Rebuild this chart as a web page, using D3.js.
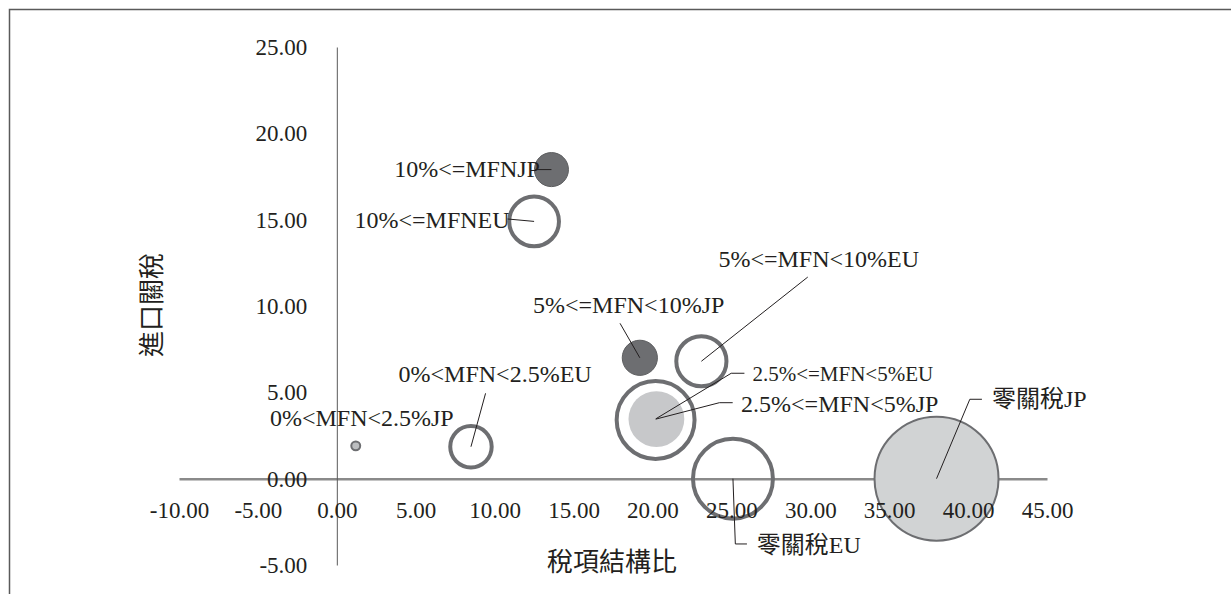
<!DOCTYPE html>
<html>
<head>
<meta charset="utf-8">
<script src="https://cdn.jsdelivr.net/npm/d3@7"></script>
<style>
  html, body { margin: 0; padding: 0; background: #fff; }
  svg { display: block; }
</style>
</head>
<body>
<svg id="chart" width="1231" height="594"></svg>
<script>
// data
const labels = ["10%<=MFNJP", "10%<=MFNEU", "5%<=MFN<10%JP", "5%<=MFN<10%EU",
                "2.5%<=MFN<5%EU", "2.5%<=MFN<5%JP", "0%<MFN<2.5%EU", "0%<MFN<2.5%JP",
                "零關稅EU", "零關稅JP"];
const shareX = [13.6, 12.5, 19.2, 23.1, 20.2, 20.25, 8.5, 1.2, 25.1, 38.0];
const tariffY = [17.9, 14.9, 7.0, 6.8, 3.4, 3.45, 1.85, 1.9, 0, 0];
const bubbleSize = [2.9, 6.2, 3.1, 6.3, 15.2, 7.8, 4.3, 0.2, 16.0, 38.5];
const xTicks = [-10, -5, 0, 5, 10, 15, 20, 25, 30, 35, 40, 45];
const yTicks = [-5, 0, 5, 10, 15, 20, 25];

// looks of each bubble
const ring = { fill: "none", stroke: "#6d6e71", sw: 4 };
const bubbleStyle = {
  "10%<=MFNJP":     { fill: "#6d6e71", stroke: "#5d5e60", sw: 1 },
  "10%<=MFNEU":     ring,
  "5%<=MFN<10%JP":  { fill: "#6d6e71", stroke: "#5d5e60", sw: 1 },
  "5%<=MFN<10%EU":  ring,
  "2.5%<=MFN<5%EU": ring,
  "2.5%<=MFN<5%JP": { fill: "#c7c8ca", stroke: "none", sw: 0 },
  "0%<MFN<2.5%EU":  ring,
  "0%<MFN<2.5%JP":  { fill: "#bcbec0", stroke: "#6d6e71", sw: 2 },
  "零關稅EU":        ring,
  "零關稅JP":        { fill: "#d1d3d4", stroke: "#6d6e71", sw: 2 }
};

// label placement relative to the bubble centre (px): text offset + leader points
const labelLayout = {
  "10%<=MFNJP":     { dx: -11.5, dy: 7.4,  anchor: "end",   size: 24, leader: [[-16, 0], [0, 0]] },
  "10%<=MFNEU":     { dx: -24.5, dy: 6.6,  anchor: "end",   size: 24, leader: [[-26.5, -2.4], [0, 0]] },
  "5%<=MFN<10%JP":  { dx: -106.8, dy: -44.8, anchor: "start", size: 24, leader: [[-19.8, -34.5], [0, 0]] },
  "5%<=MFN<10%EU":  { dx: 17.1,  dy: -94.5, anchor: "start", size: 24, leader: [[106.4, -84.2], [0, 0]] },
  "2.5%<=MFN<5%EU": { dx: 96.8,  dy: -39,   anchor: "start", size: 21, leader: [[88.8, -46.7], [75.6, -46.7], [0, -1]] },
  "2.5%<=MFN<5%JP": { dx: 84.7,  dy: -7.4,  anchor: "start", size: 24, leader: [[76.3, -16.4], [63, -16.4], [-0.5, 0]] },
  "0%<MFN<2.5%EU":  { dx: -72.4, dy: -64.7, anchor: "start", size: 24, leader: [[14.6, -53.4], [0, 0]] },
  "0%<MFN<2.5%JP":  { dx: -85.8, dy: -19.7, anchor: "start", size: 24, leader: null },
  "零關稅EU":        { dx: 23.8,  dy: 74.3,  anchor: "start", size: 24, leader: [[0, 0], [2.4, 65.3], [14, 65.3]] },
  "零關稅JP":        { dx: 55.5,  dy: -71.7, anchor: "start", size: 24, leader: [[0, 0], [33.3, -79.4], [45.4, -79.4]] }
};

const points = labels.map((name, i) => ({ name, x: shareX[i], y: tariffY[i], s: bubbleSize[i] }));

const svg = d3.select("#chart");
const serif = "'Liberation Serif', 'Times New Roman', 'Noto Sans CJK TC', serif";
const sans = "'Noto Sans CJK TC', 'Noto Sans', sans-serif";
const ink = "#231f20";

const x = d3.scaleLinear().domain([-10, 45]).range([179, 1047]);
const y = d3.scaleLinear().domain([-5, 25]).range([565, 47]);
const r = d3.scaleSqrt().domain([0, d3.max(bubbleSize)]).range([0, 62]);

// outer frame
svg.append("rect")
  .attr("x", 9.5).attr("y", 9.5)
  .attr("width", 1400).attr("height", 800)
  .attr("fill", "none")
  .attr("stroke", "#5a5a5a")
  .attr("stroke-width", 1.5);

const fmt = d => d.toFixed(2);

// axis lines (under the bubbles)
const lines = svg.append("g");
lines.append("g")
  .attr("transform", `translate(0,${y(0)})`)
  .call(d3.axisBottom(x).tickValues([]).tickSizeOuter(0))
  .call(g => g.select(".domain").attr("stroke", "#8a8a8a").attr("stroke-width", 2.5));
lines.append("g")
  .attr("transform", `translate(${x(0)},0)`)
  .call(d3.axisLeft(y).tickValues([]).tickSizeOuter(0))
  .call(g => g.select(".domain").attr("stroke", "#5a5a5a").attr("stroke-width", 1));

// bubbles: rings first so the filled JP bubble shows inside the EU ring
const order = points.slice().sort((a, b) => b.s - a.s);
svg.append("g")
  .selectAll("circle")
  .data(order)
  .join("circle")
  .attr("cx", d => x(d.x))
  .attr("cy", d => y(d.y))
  .attr("r", d => r(d.s))
  .attr("fill", d => bubbleStyle[d.name].fill)
  .attr("stroke", d => bubbleStyle[d.name].stroke)
  .attr("stroke-width", d => bubbleStyle[d.name].sw);

// tick labels (over the bubbles)
svg.append("g")
  .attr("transform", `translate(0,${y(0)})`)
  .call(d3.axisBottom(x).tickValues(xTicks).tickFormat(fmt).tickSize(0).tickPadding(23))
  .call(g => g.select(".domain").remove())
  .call(g => g.selectAll("text").attr("font-family", serif).attr("font-size", 23).attr("fill", ink));
svg.append("g")
  .attr("transform", `translate(${x(0)},0)`)
  .call(d3.axisLeft(y).tickValues(yTicks).tickFormat(fmt).tickSize(0).tickPadding(29.5))
  .call(g => g.select(".domain").remove())
  .call(g => g.selectAll("text").attr("font-family", serif).attr("font-size", 23).attr("fill", ink));

// leaders and data labels
const line = d3.line();
const ann = svg.append("g");
ann.selectAll("path")
  .data(points.filter(d => labelLayout[d.name].leader))
  .join("path")
  .attr("d", d => line(labelLayout[d.name].leader.map(p => [x(d.x) + p[0], y(d.y) + p[1]])))
  .attr("fill", "none")
  .attr("stroke", ink)
  .attr("stroke-width", 1);

ann.selectAll("text")
  .data(points)
  .join("text")
  .attr("x", d => x(d.x) + labelLayout[d.name].dx)
  .attr("y", d => y(d.y) + labelLayout[d.name].dy)
  .attr("text-anchor", d => labelLayout[d.name].anchor)
  .attr("font-family", serif)
  .attr("font-size", d => labelLayout[d.name].size)
  .attr("fill", ink)
  .text(d => d.name);

// axis titles
svg.append("text")
  .attr("x", 612)
  .attr("y", 559)
  .attr("text-anchor", "middle")
  .attr("dominant-baseline", "central")
  .attr("font-family", sans)
  .attr("font-size", 26)
  .attr("fill", ink)
  .text("稅項結構比");

svg.append("text")
  .attr("transform", "translate(149,305) rotate(-90)")
  .attr("text-anchor", "middle")
  .attr("dominant-baseline", "central")
  .attr("font-family", sans)
  .attr("font-size", 26)
  .attr("fill", ink)
  .text("進口關稅");
</script>
</body>
</html>
